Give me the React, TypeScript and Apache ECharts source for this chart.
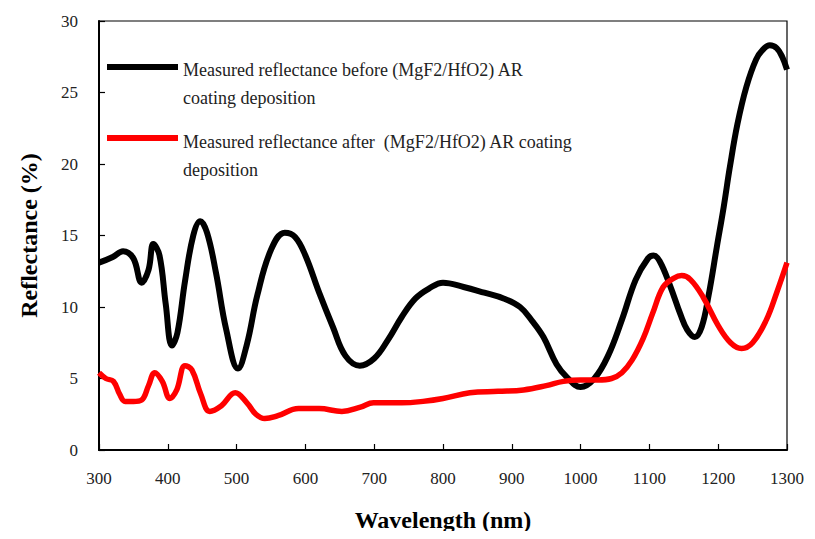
import React, { useEffect, useRef } from "react";
import * as echarts from "echarts";

const beforeWl = [300, 320, 335, 350, 362, 372, 379, 388, 397, 406, 414, 425, 437, 447, 457, 470, 485, 502, 515, 530, 550, 570, 585, 600, 620, 640, 658, 679, 700, 720, 740, 760, 780, 800, 830, 860, 888, 912, 930, 946, 965, 980, 1000, 1020, 1040, 1060, 1080, 1098, 1106, 1115, 1130, 1145, 1155, 1166, 1176, 1186, 1198, 1208, 1217, 1228, 1241, 1255, 1265, 1275, 1285, 1293, 1300];
const beforeVal = [13.1, 13.5, 13.9, 13.4, 11.7, 12.6, 14.4, 13.6, 10.2, 7.3, 8.2, 11.8, 15.0, 16.0, 15.2, 12.4, 8.4, 5.7, 7.4, 10.8, 14.0, 15.2, 14.9, 13.6, 11.0, 8.6, 6.6, 5.9, 6.4, 7.7, 9.3, 10.6, 11.3, 11.7, 11.4, 11.0, 10.6, 10.0, 9.0, 7.9, 6.0, 5.1, 4.4, 5.0, 6.6, 9.1, 11.9, 13.4, 13.6, 13.2, 11.5, 9.5, 8.4, 7.9, 8.6, 10.8, 14.2, 17.0, 19.8, 22.8, 25.4, 27.3, 28.0, 28.3, 28.1, 27.5, 26.6];

const afterWl = [300, 310, 321, 330, 338, 350, 362, 372, 381, 392, 403, 413, 425, 435, 448, 461, 478, 498, 515, 528, 541, 560, 590, 620, 653, 680, 699, 740, 771, 800, 839, 880, 917, 950, 975, 1000, 1025, 1045, 1060, 1075, 1091, 1105, 1120, 1135, 1147, 1160, 1178, 1200, 1218, 1234, 1250, 1270, 1285, 1300];
const afterVal = [5.4, 5.0, 4.8, 3.9, 3.4, 3.4, 3.5, 4.5, 5.4, 4.8, 3.6, 4.2, 5.9, 5.6, 3.9, 2.7, 3.1, 4.0, 3.3, 2.5, 2.2, 2.4, 2.9, 2.9, 2.7, 3.0, 3.3, 3.3, 3.4, 3.6, 4.0, 4.1, 4.2, 4.5, 4.8, 4.9, 4.9, 5.0, 5.4, 6.3, 7.8, 9.6, 11.4, 12.0, 12.2, 11.9, 10.7, 8.7, 7.5, 7.1, 7.5, 9.1, 11.0, 13.1];

const legendLabels = [
  "Measured reflectance before (MgF2/HfO2) AR\ncoating deposition",
  "Measured reflectance after  (MgF2/HfO2) AR coating\ndeposition",
];
const seriesColors = ["#000000", "#ff0000"];

const xTitle = "Wavelength (nm)";
const yTitle = "Reflectance (%)";

export default function App() {
  const ref = useRef<HTMLDivElement>(null);
  useEffect(() => {
    if (!ref.current) return;
    const chart = echarts.init(ref.current, null, { renderer: "svg" });
    const serif = "Liberation Serif";
    const zip = (xs: number[], ys: number[]) => xs.map((x, i) => [x, ys[i]]);
    chart.setOption({
      animation: false,
      backgroundColor: "#ffffff",
      grid: {
        left: 99,
        right: 28,
        top: 21,
        bottom: 89,
        show: true,
        borderColor: "#000",
        borderWidth: 1.2,
      },
      xAxis: {
        type: "value",
        min: 300,
        max: 1300,
        interval: 100,
        name: xTitle,
        nameLocation: "middle",
        nameGap: 58,
        nameTextStyle: { fontFamily: serif, fontSize: 24, fontWeight: "bold", color: "#000" },
        axisLine: { show: true, lineStyle: { color: "#000", width: 2 } },
        axisTick: { show: true, inside: true, length: 6, lineStyle: { color: "#000", width: 1.2 } },
        axisLabel: { fontFamily: serif, fontSize: 17, color: "#222", margin: 20, formatter: (v: number) => String(v) },
        splitLine: { show: false },
      },
      yAxis: {
        type: "value",
        min: 0,
        max: 30,
        interval: 5,
        name: yTitle,
        nameLocation: "middle",
        nameGap: 58,
        nameRotate: 90,
        nameTextStyle: { fontFamily: serif, fontSize: 24, fontWeight: "bold", color: "#000" },
        axisLine: { show: true, lineStyle: { color: "#000", width: 2 } },
        axisTick: { show: true, inside: true, length: 6, lineStyle: { color: "#000", width: 1.2 } },
        axisLabel: { fontFamily: serif, fontSize: 17, color: "#222", margin: 21 },
        splitLine: { show: false },
      },
      series: [
        {
          type: "line",
          name: legendLabels[0],
          data: zip(beforeWl, beforeVal),
          smooth: 0.4,
          showSymbol: false,
          lineStyle: { color: seriesColors[0], width: 6 },
          itemStyle: { color: seriesColors[0] },
        },
        {
          type: "line",
          name: legendLabels[1],
          data: zip(afterWl, afterVal),
          smooth: 0.4,
          showSymbol: false,
          lineStyle: { color: seriesColors[1], width: 5.5 },
          itemStyle: { color: seriesColors[1] },
        },
      ],
      graphic: [
        { type: "line", shape: { x1: 107, y1: 67, x2: 178, y2: 67 }, style: { stroke: seriesColors[0], lineWidth: 6 } },
        { type: "text", x: 183, y: 56, style: { text: legendLabels[0], font: `18px "${serif}"`, fill: "#222", lineHeight: 28 } },
        { type: "line", shape: { x1: 107, y1: 138, x2: 178, y2: 138 }, style: { stroke: seriesColors[1], lineWidth: 6 } },
        { type: "text", x: 183, y: 128, style: { text: legendLabels[1], font: `18px "${serif}"`, fill: "#222", lineHeight: 28 } },
      ],
    });
    return () => chart.dispose();
  }, []);
  return <div ref={ref} style={{ width: 815, height: 539, margin: -8 }} />;
}
